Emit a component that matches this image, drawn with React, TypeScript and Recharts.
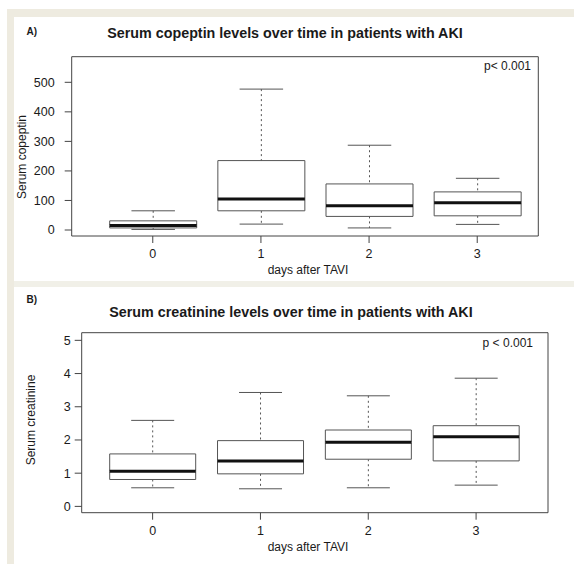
import { ComposedChart, Bar, XAxis, YAxis, CartesianGrid } from 'recharts'

const DAYS = ['0', '1', '2', '3']

const COPEPTIN_MIN = [2, 20, 7, 19]
const COPEPTIN_Q1 = [7, 65, 46, 48]
const COPEPTIN_MEDIAN = [15, 105, 82, 92]
const COPEPTIN_Q3 = [31, 235, 156, 129]
const COPEPTIN_MAX = [65, 477, 287, 175]
const COPEPTIN_TICKS = [0, 100, 200, 300, 400, 500]

const CREATININE_MIN = [0.56, 0.53, 0.56, 0.64]
const CREATININE_Q1 = [0.81, 0.98, 1.42, 1.37]
const CREATININE_MEDIAN = [1.06, 1.37, 1.93, 2.1]
const CREATININE_Q3 = [1.58, 1.98, 2.3, 2.43]
const CREATININE_MAX = [2.59, 3.43, 3.33, 3.86]
const CREATININE_TICKS = [0, 1, 2, 3, 4, 5]

const FONT = 'Liberation Sans, Arial, Helvetica, sans-serif'
const FRAME = '#444'
const BOX = '#555'
const BEIGE = '#eeebe0'

function toRows(min: number[], q1: number[], med: number[], q3: number[], max: number[]) {
  return DAYS.map((day, i) => ({
    day,
    base: min[i],
    lowWhisker: q1[i] - min[i],
    lowBox: med[i] - q1[i],
    highBox: q3[i] - med[i],
    highWhisker: max[i] - q3[i],
  }))
}

// each stacked segment draws its own piece of the box plot
const Empty = () => <g />

const LowWhisker = (p: any) => {
  const cx = p.x + p.width / 2
  const top = Math.min(p.y, p.y + p.height)
  const bottom = Math.max(p.y, p.y + p.height)
  return (
    <g>
      <line x1={cx} x2={cx} y1={top} y2={bottom} stroke={BOX} strokeDasharray="2 3" />
      <line x1={cx - p.width / 4} x2={cx + p.width / 4} y1={bottom} y2={bottom} stroke={BOX} />
    </g>
  )
}

const HighWhisker = (p: any) => {
  const cx = p.x + p.width / 2
  const top = Math.min(p.y, p.y + p.height)
  const bottom = Math.max(p.y, p.y + p.height)
  return (
    <g>
      <line x1={cx} x2={cx} y1={top} y2={bottom} stroke={BOX} strokeDasharray="2 3" />
      <line x1={cx - p.width / 4} x2={cx + p.width / 4} y1={top} y2={top} stroke={BOX} />
    </g>
  )
}

const LowBox = (p: any) => {
  const top = Math.min(p.y, p.y + p.height)
  const bottom = Math.max(p.y, p.y + p.height)
  return (
    <path
      d={`M${p.x},${top} L${p.x},${bottom} L${p.x + p.width},${bottom} L${p.x + p.width},${top}`}
      fill="#fff"
      stroke={BOX}
    />
  )
}

const HighBox = (p: any) => {
  const top = Math.min(p.y, p.y + p.height)
  const bottom = Math.max(p.y, p.y + p.height)
  return (
    <g>
      <path
        d={`M${p.x},${bottom} L${p.x},${top} L${p.x + p.width},${top} L${p.x + p.width},${bottom}`}
        fill="#fff"
        stroke={BOX}
      />
      <line x1={p.x} x2={p.x + p.width} y1={bottom} y2={bottom} stroke="#111" strokeWidth={3} />
    </g>
  )
}

interface PanelProps {
  rows: ReturnType<typeof toRows>
  domain: [number, number]
  ticks: number[]
  margin: { top: number; right: number; bottom: number; left: number }
  padding: { left: number; right: number }
  barSize: number
  tickMargin: number
}

function BoxPanel({ rows, domain, ticks, margin, padding, barSize, tickMargin }: PanelProps) {
  const tick = { fontSize: 12.5, fill: '#1a1a1a', fontFamily: FONT }
  return (
    <ComposedChart width={574} height={282} data={rows} margin={margin}>
      <CartesianGrid
        stroke={FRAME}
        horizontalCoordinatesGenerator={({ offset }: any) => [offset.top, offset.top + offset.height]}
        verticalCoordinatesGenerator={({ offset }: any) => [offset.left, offset.left + offset.width]}
      />
      <XAxis
        dataKey="day"
        interval={0}
        height={40}
        padding={padding}
        axisLine={false}
        tickLine={{ stroke: FRAME }}
        tickSize={7}
        tickMargin={6}
        tick={tick}
      />
      <YAxis
        type="number"
        domain={domain}
        ticks={ticks}
        allowDataOverflow
        width={62}
        axisLine={false}
        tickLine={{ stroke: FRAME }}
        tickSize={7}
        tickMargin={tickMargin}
        tick={tick}
      />
      <Bar dataKey="base" stackId="b" barSize={barSize} shape={Empty} isAnimationActive={false} />
      <Bar dataKey="lowWhisker" stackId="b" barSize={barSize} shape={LowWhisker} isAnimationActive={false} />
      <Bar dataKey="lowBox" stackId="b" barSize={barSize} shape={LowBox} isAnimationActive={false} />
      <Bar dataKey="highBox" stackId="b" barSize={barSize} shape={HighBox} isAnimationActive={false} />
      <Bar dataKey="highWhisker" stackId="b" barSize={barSize} shape={HighWhisker} isAnimationActive={false} />
    </ComposedChart>
  )
}

export default function App() {
  const copeptin = toRows(COPEPTIN_MIN, COPEPTIN_Q1, COPEPTIN_MEDIAN, COPEPTIN_Q3, COPEPTIN_MAX)
  const creatinine = toRows(CREATININE_MIN, CREATININE_Q1, CREATININE_MEDIAN, CREATININE_Q3, CREATININE_MAX)
  const txt = { fontFamily: FONT, fill: '#1a1a1a' }

  return (
    <div style={{ position: 'absolute', left: 0, top: 0, width: 574, height: 564, background: '#fff', overflow: 'hidden' }}>
      <div style={{ position: 'absolute', left: 7, top: 9, width: 567, height: 8, background: BEIGE }} />
      <div style={{ position: 'absolute', left: 7, top: 9, width: 7, height: 555, background: BEIGE }} />
      <div style={{ position: 'absolute', left: 14, top: 281, width: 560, height: 6, background: '#f1f0e8' }} />

      <div style={{ position: 'absolute', left: 0, top: 0 }}>
        <BoxPanel
          rows={copeptin}
          domain={[-20.3, 586.7]}
          ticks={COPEPTIN_TICKS}
          margin={{ top: 56.7, right: 35.7, bottom: 6, left: 9.7 }}
          padding={{ left: 27, right: 7 }}
          barSize={87}
          tickMargin={10}
        />
      </div>
      <div style={{ position: 'absolute', left: 0, top: 282 }}>
        <BoxPanel
          rows={creatinine}
          domain={[-0.19, 5.23]}
          ticks={CREATININE_TICKS}
          margin={{ top: 50.7, right: 26, bottom: 11.3, left: 19.7 }}
          padding={{ left: 17, right: 18 }}
          barSize={86}
          tickMargin={4}
        />
      </div>

      <svg width={574} height={564} style={{ position: 'absolute', left: 0, top: 0, pointerEvents: 'none' }}>
        <text x={26.5} y={35} fontSize={10} fontWeight="bold" {...txt}>A)</text>
        <text x={285} y={38} fontSize={14.3} fontWeight="bold" textAnchor="middle" {...txt}>
          Serum copeptin levels over time in patients with AKI
        </text>
        <text x={531} y={70.3} fontSize={12} textAnchor="end" {...txt}>p&lt; 0.001</text>
        <text x={308} y={273.6} fontSize={12} textAnchor="middle" {...txt}>days after TAVI</text>
        <text x={26.3} y={157} fontSize={12} textAnchor="middle" transform="rotate(-90 26.3 157)" {...txt}>
          Serum copeptin
        </text>

        <text x={26.5} y={302.6} fontSize={10} fontWeight="bold" {...txt}>B)</text>
        <text x={291} y={317} fontSize={14.3} fontWeight="bold" textAnchor="middle" {...txt}>
          Serum creatinine levels over time in patients with AKI
        </text>
        <text x={533} y={347} fontSize={12} textAnchor="end" {...txt}>p &lt; 0.001</text>
        <text x={308} y={551} fontSize={12} textAnchor="middle" {...txt}>days after TAVI</text>
        <text x={35.3} y={420} fontSize={12} textAnchor="middle" transform="rotate(-90 35.3 420)" {...txt}>
          Serum creatinine
        </text>
      </svg>
    </div>
  )
}
